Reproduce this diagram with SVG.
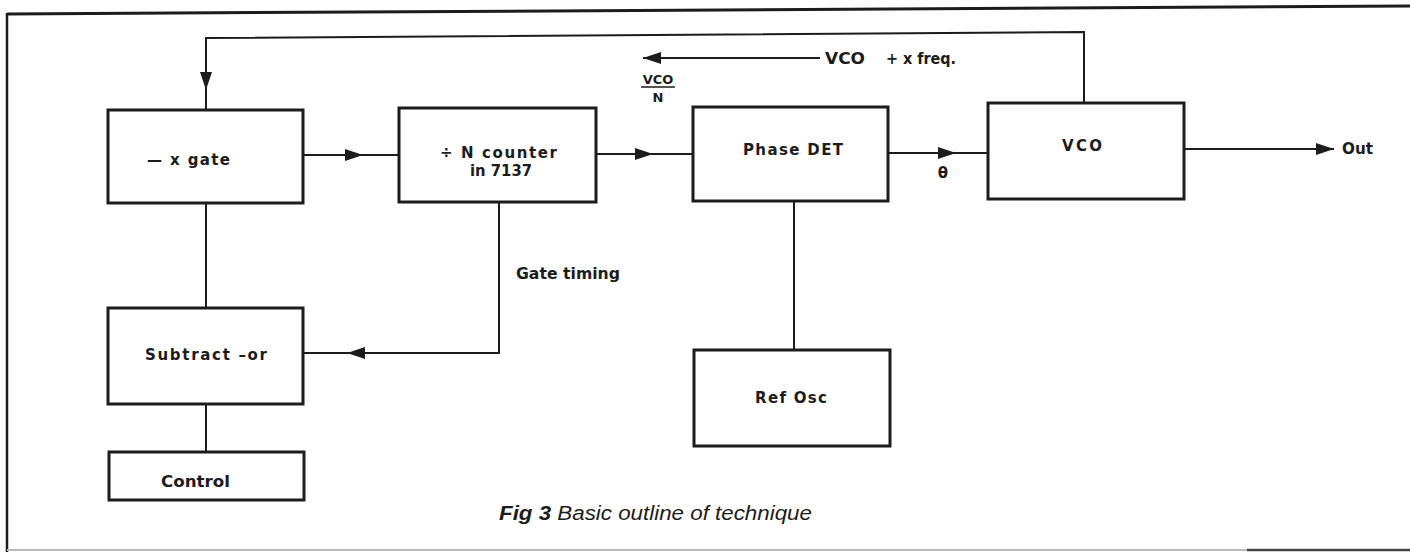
<svg xmlns="http://www.w3.org/2000/svg" width="1410" height="552" viewBox="0 0 1410 552">
<defs>
<style>
.box{fill:#fff;stroke:#1c1c1c;stroke-width:3}
.wire{fill:none;stroke:#1c1c1c;stroke-width:2}
.lbl{font-family:"DejaVu Sans","Liberation Sans",Arial,sans-serif;font-weight:bold;font-size:15px;fill:#1c1c1c}
.sm{font-size:13px}
.cap{font-family:"Liberation Sans",Arial,sans-serif;font-style:italic;font-size:20px;fill:#1c1c1c}
</style>
<marker id="ah" markerUnits="userSpaceOnUse" markerWidth="20" markerHeight="14" refX="18" refY="6" orient="auto">
<path d="M0,0 L18,6 L0,12 z" fill="#1c1c1c"/>
</marker>
</defs>
<rect width="1410" height="552" fill="#fff"/>
<g id="frame">
<path d="M7,14 L1410,6" stroke="#1c1c1c" stroke-width="3" fill="none"/>
<path d="M7,13 L7,552" stroke="#1c1c1c" stroke-width="2.5" fill="none"/>
<path d="M7,550 L1247,550" stroke="#bbb" stroke-width="2" fill="none"/>
<path d="M1247,550 L1410,550" stroke="#444" stroke-width="2.5" fill="none"/>
</g>
<g id="connectors">
<path class="wire" d="M1084,103 L1084,32 L206,38 L206,50"/>
<path class="wire" d="M206,45 L206,90 L206,110" marker-mid="url(#ah)"/>
<path class="wire" d="M303,155 L363,155 L399,155" marker-mid="url(#ah)"/>
<path class="wire" d="M596,154 L653,154 L693,154" marker-mid="url(#ah)"/>
<path class="wire" d="M888,153 L956,153 L988,153" marker-mid="url(#ah)"/>
<path class="wire" d="M1184,149 L1334,149" marker-end="url(#ah)"/>
<path class="wire" d="M820,58 L643,58" marker-end="url(#ah)"/>
<path class="wire" d="M206,203 L206,308"/>
<path class="wire" d="M499,202 L499,353 L347,353"  marker-end="url(#ah)"/>
<path class="wire" d="M350,353 L303,353"/>
<path class="wire" d="M794,201 L794,350"/>
<path class="wire" d="M206,404 L206,452"/>
<path d="M641,87 L675,87" stroke="#1c1c1c" stroke-width="1.5"/>
</g>
<g id="labels">
<text class="lbl" x="825" y="64" textLength="40" lengthAdjust="spacingAndGlyphs">VCO</text>
<text class="lbl" x="886" y="64" textLength="70" lengthAdjust="spacingAndGlyphs">+ x freq.</text>
<text class="lbl sm" x="658" y="84" text-anchor="middle">VCO</text>
<text class="lbl sm" x="658" y="102" text-anchor="middle">N</text>
<text class="lbl" x="943" y="178" text-anchor="middle" font-size="16">θ</text>
<text class="lbl" x="516" y="279" textLength="104" lengthAdjust="spacingAndGlyphs">Gate timing</text>
</g>
<g id="xgate">
<rect class="box" x="108" y="110" width="195" height="93"/>
<text class="lbl" x="147" y="165" textLength="83" lengthAdjust="spacing">— x gate</text>
</g>
<g id="counter">
<rect class="box" x="399" y="108" width="197" height="94"/>
<text class="lbl" x="440" y="158" textLength="117" lengthAdjust="spacing">÷ N counter</text>
<text class="lbl" x="470" y="176" textLength="62" lengthAdjust="spacingAndGlyphs">in 7137</text>
</g>
<g id="phasedet">
<rect class="box" x="693" y="107" width="195" height="94"/>
<text class="lbl" x="743" y="155" textLength="100" lengthAdjust="spacing">Phase DET</text>
</g>
<g id="vco">
<rect class="box" x="988" y="103" width="196" height="96"/>
<text class="lbl" x="1062" y="151" textLength="40" lengthAdjust="spacing">VCO</text>
</g>
<g id="out">
<text class="lbl" x="1342" y="154" textLength="31" lengthAdjust="spacingAndGlyphs">Out</text>
</g>
<g id="subtractor">
<rect class="box" x="108" y="308" width="195" height="96"/>
<text class="lbl" x="145" y="360" textLength="122" lengthAdjust="spacing">Subtract –or</text>
</g>
<g id="refosc">
<rect class="box" x="694" y="350" width="196" height="96"/>
<text class="lbl" x="755" y="403" textLength="72" lengthAdjust="spacing">Ref Osc</text>
</g>
<g id="control">
<rect class="box" x="109" y="452" width="195" height="48"/>
<text class="lbl" x="161" y="487" textLength="69" lengthAdjust="spacingAndGlyphs">Control</text>
</g>
<g id="caption">
<text class="cap" x="499" y="520" textLength="313" lengthAdjust="spacingAndGlyphs"><tspan font-weight="bold">Fig 3</tspan> Basic outline of technique</text>
</g>
</svg>
